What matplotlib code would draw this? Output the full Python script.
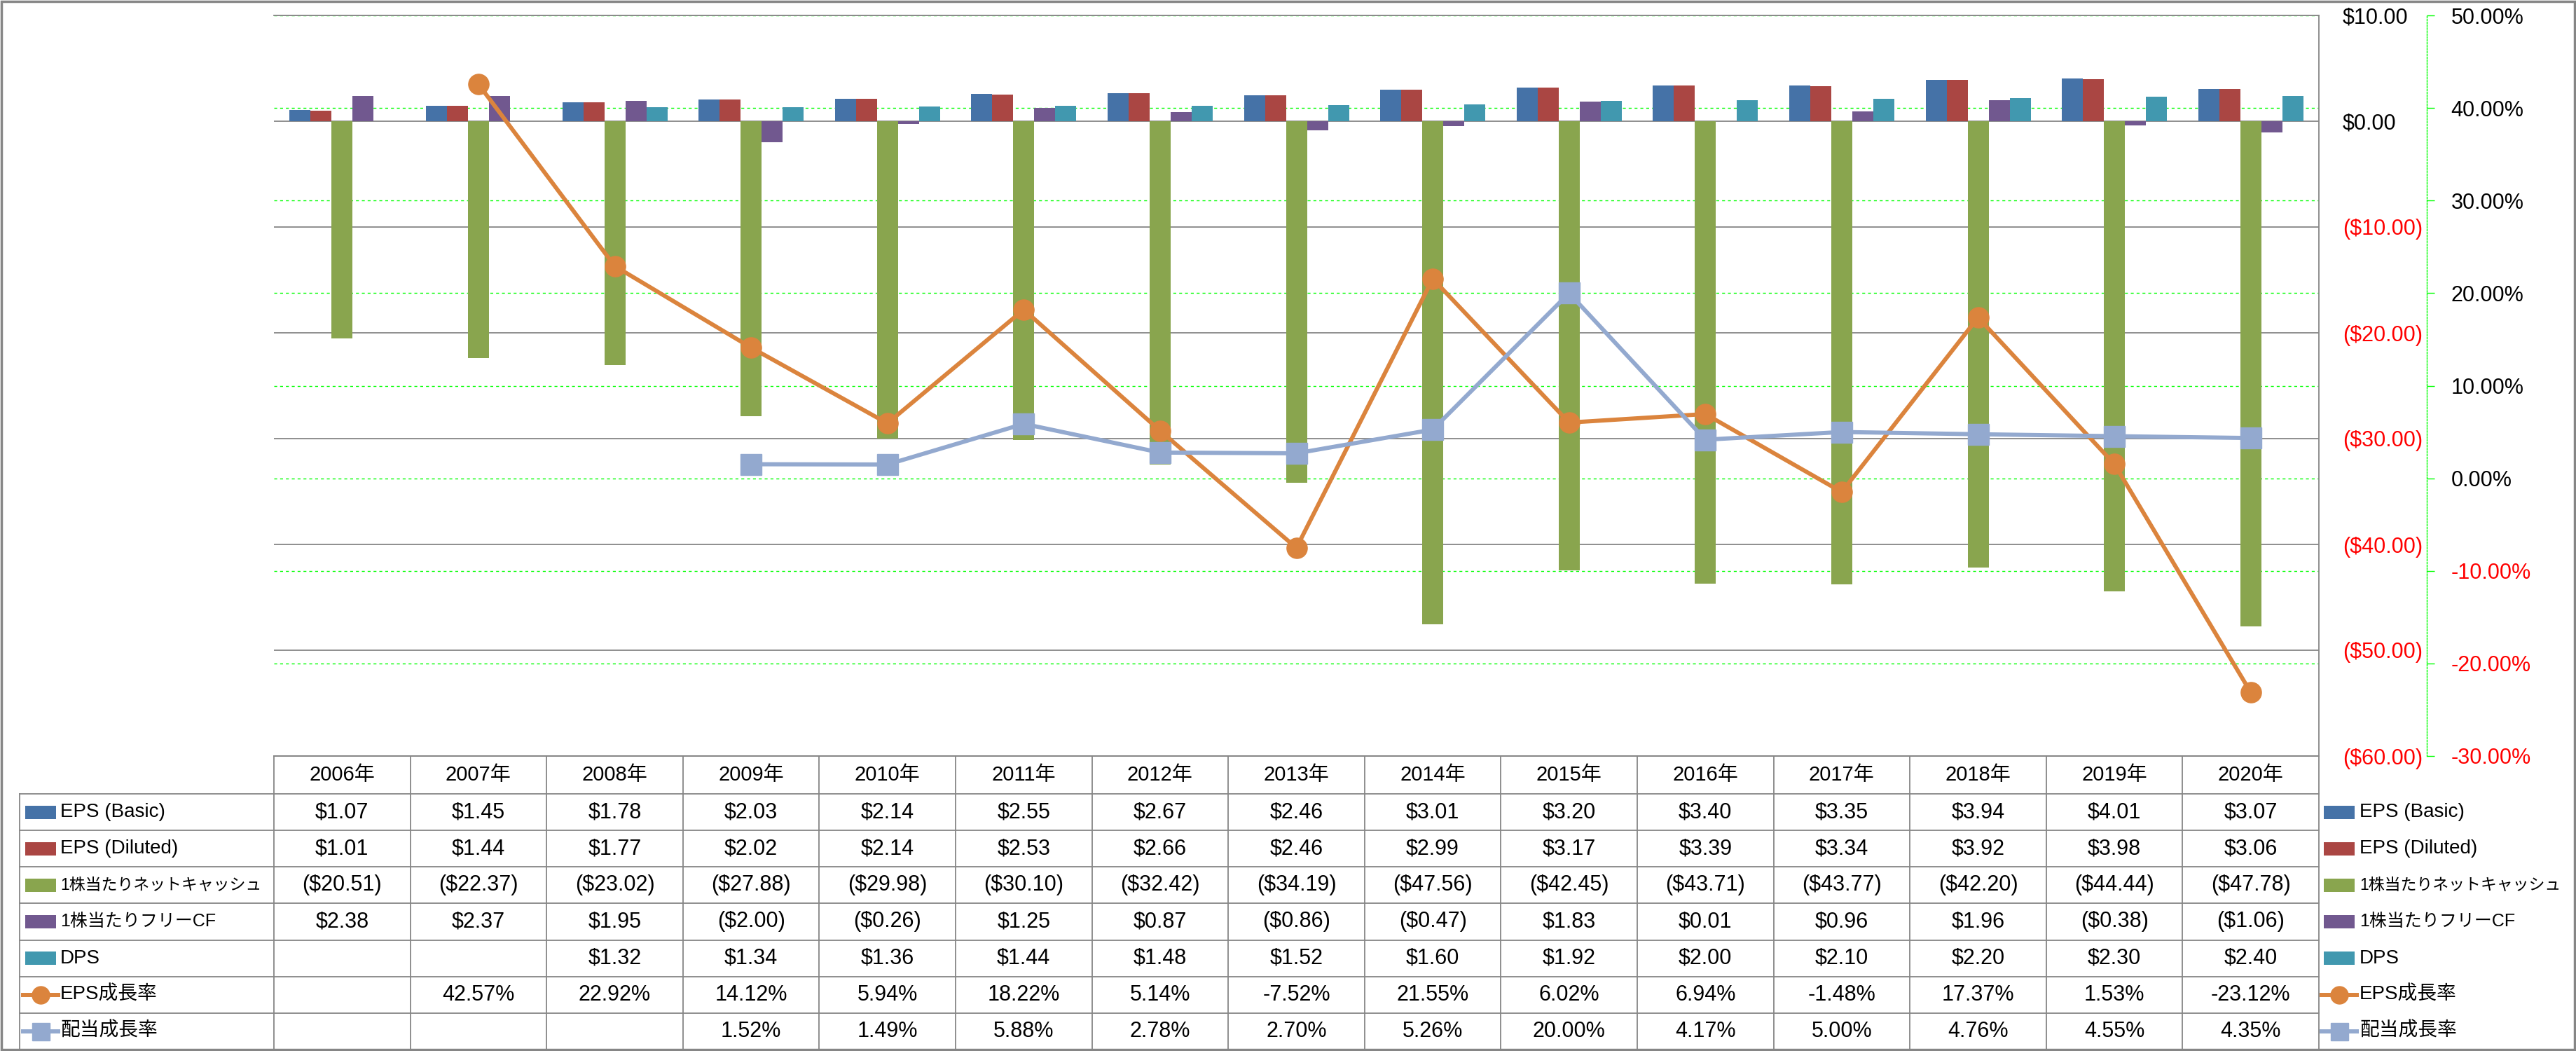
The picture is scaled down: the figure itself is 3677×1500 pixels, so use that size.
import numpy as np
import matplotlib
matplotlib.use("Agg")
import matplotlib.pyplot as plt
from matplotlib.patches import Rectangle

plt.rcParams['font.family'] = ['Liberation Sans', 'Noto Sans CJK JP']
plt.rcParams['text.parse_math'] = False

# data
years = [2006, 2007, 2008, 2009, 2010, 2011, 2012, 2013, 2014, 2015, 2016, 2017, 2018, 2019, 2020]
eps_basic = [1.07, 1.45, 1.78, 2.03, 2.14, 2.55, 2.67, 2.46, 3.01, 3.20, 3.40, 3.35, 3.94, 4.01, 3.07]
eps_diluted = [1.01, 1.44, 1.77, 2.02, 2.14, 2.53, 2.66, 2.46, 2.99, 3.17, 3.39, 3.34, 3.92, 3.98, 3.06]
net_cash = [-20.51, -22.37, -23.02, -27.88, -29.98, -30.10, -32.42, -34.19, -47.56, -42.45,
            -43.71, -43.77, -42.20, -44.44, -47.78]
fcf = [2.38, 2.37, 1.95, -2.00, -0.26, 1.25, 0.87, -0.86, -0.47, 1.83, 0.01, 0.96, 1.96, -0.38, -1.06]
dps = [None, None, 1.32, 1.34, 1.36, 1.44, 1.48, 1.52, 1.60, 1.92, 2.00, 2.10, 2.20, 2.30, 2.40]
eps_growth = [None, 42.57, 22.92, 14.12, 5.94, 18.22, 5.14, -7.52, 21.55, 6.02, 6.94, -1.48, 17.37, 1.53, -23.12]
div_growth = [None, None, None, 1.52, 1.49, 5.88, 2.78, 2.70, 5.26, 20.00, 4.17, 5.00, 4.76, 4.55, 4.35]

bar_names = ['EPS (Basic)', 'EPS (Diluted)', '1株当たりネットキャッシュ', '1株当たりフリーCF', 'DPS']
bar_data = [eps_basic, eps_diluted, net_cash, fcf, dps]
bar_colors = ['#4572A7', '#AA4643', '#89A54E', '#71588F', '#4198AF']
line_names = ['EPS成長率', '配当成長率']
line_data = [eps_growth, div_growth]
line_colors = ['#DB843D', '#93A9CF']
line_markers = ['o', 's']

usd_ticks = list(range(-60, 11, 10))
pct_ticks = list(range(-30, 51, 10))

W, H = 3677, 1500
GRAY = '#868686'
LIME = '#00FF00'

def money(v):
    return f"${v:.2f}" if v >= 0 else f"(${-v:.2f})"

def pct(v):
    return f"{v:.2f}%"

def arr(v):
    return np.array([np.nan if x is None else x for x in v], dtype=float)

fig = plt.figure(figsize=(W / 100, H / 100), dpi=100)

# plot area in pixels
L, R, T, B = 391, 3310, 22, 1079
rect = [L / W, 1 - B / H, (R - L) / W, (B - T) / H]
n = len(years)
x = np.arange(n)

# green dashed grid of the % axis, drawn under the bars
axg = fig.add_axes(rect, label='grid')
axg.set_xlim(-0.5, n - 0.5)
axg.set_ylim(pct_ticks[0], pct_ticks[-1])
axg.set_yticks(pct_ticks)
axg.grid(axis='y', color=LIME, linestyle=(0, (3, 3)), linewidth=1.0)
axg.tick_params(left=False, labelleft=False, bottom=False, labelbottom=False)
for s in axg.spines.values():
    s.set_visible(False)

# bars on $ axis
ax = fig.add_axes(rect, label='bars')
ax.patch.set_visible(False)
ax.set_xlim(-0.5, n - 0.5)
ax.set_ylim(usd_ticks[0], usd_ticks[-1])
bw = 30 / ((R - L) / n)
for i, (vals, c) in enumerate(zip(bar_data, bar_colors)):
    ax.bar(x + (i - 2) * bw, arr(vals), width=bw, color=c, zorder=2)
ax.set_axisbelow(True)
ax.grid(axis='y', color=GRAY, linewidth=1.3, zorder=0)
ax.set_xticks([])

# growth lines on % axis
ax2 = ax.twinx()
ax2.set_ylim(pct_ticks[0], pct_ticks[-1])
for vals, c, m in zip(line_data, line_colors, line_markers):
    ax2.plot(x, arr(vals), color=c, linewidth=4.3, marker=m, markersize=21,
             markerfacecolor=c, markeredgecolor=c, zorder=3)
ax2.set_yticks(pct_ticks, [pct(v) for v in pct_ticks])
ax2.spines['right'].set_position(('axes', (3464 - L) / (R - L)))
ax2.spines['right'].set_color(LIME)
ax2.spines['right'].set_linestyle((0, (1.5, 1.5)))
ax2.spines['right'].set_linewidth(1.0)
for k in ['top', 'bottom', 'left']:
    ax2.spines[k].set_visible(False)
ax2.tick_params(axis='y', direction='out', length=8, width=1, color=LIME, pad=17, labelsize=22)
for lab, v in zip(ax2.get_yticklabels(), pct_ticks):
    lab.set_color('#FF0000' if v < 0 else 'black')

# $ axis labels on the right side of the plot area (after twinx)
ax.set_yticks(usd_ticks, [money(v) for v in usd_ticks])
ax.tick_params(axis='y', left=False, labelleft=False, right=False, labelright=True,
               length=0, pad=24.5, labelsize=22)
for t, v in zip(ax.yaxis.get_major_ticks(), usd_ticks):
    t.label2.set_color('#FF0000' if v < 0 else 'black')
ax.spines['left'].set_visible(False)
for k in ['top', 'bottom', 'right']:
    ax.spines[k].set_visible(True)
    ax.spines[k].set_color(GRAY)
    ax.spines[k].set_linewidth(1.3)

# data table and legend, drawn in pixel coordinates
ov = fig.add_axes([0, 0, 1, 1], label='table')
ov.set_xlim(0, W)
ov.set_ylim(H, 0)
ov.axis('off')

cw = (R - L) / n
head_top, head_bot, tab_bot = B, 1133, 1498
rh = (tab_bot - head_bot) / 7
lw_t = 1.3

ov.plot([L, R], [head_top, head_top], color=GRAY, lw=lw_t)
for j in range(n + 1):
    ov.plot([L + j * cw] * 2, [head_top, tab_bot], color=GRAY, lw=lw_t)
ov.plot([28, 28], [head_bot, tab_bot], color=GRAY, lw=lw_t)
for r in range(8):
    yy = head_bot + r * rh
    ov.plot([28, R], [yy, yy], color=GRAY, lw=lw_t)

for j, yr in enumerate(years):
    ov.text(L + (j + 0.5) * cw, (head_top + head_bot) / 2, f"{yr}年", ha='center', va='center', fontsize=21)

rows = [(nm, vals, money) for nm, vals in zip(bar_names, bar_data)] + \
       [(nm, vals, pct) for nm, vals in zip(line_names, line_data)]
for r, (nm, vals, fmt) in enumerate(rows):
    yc = head_bot + (r + 0.5) * rh
    for j, v in enumerate(vals):
        if v is not None:
            ov.text(L + (j + 0.5) * cw, yc, fmt(v), ha='center', va='center', fontsize=22)

# legend keys in the table and at the right
fs_lab = {'1株当たりネットキャッシュ': 16.5, '1株当たりフリーCF': 18}
for r, (nm, vals, fmt) in enumerate(rows):
    yc = head_bot + (r + 0.5) * rh
    for kx, tx in [(36, 86), (3317, 3368)]:
        if r < 5:
            ov.add_patch(Rectangle((kx, yc - 9.5), 44, 19, color=bar_colors[r], lw=0))
        else:
            li = r - 5
            ov.plot([kx - 3, kx + 22, kx + 47], [yc] * 3, color=line_colors[li], lw=4.3,
                    marker=line_markers[li], markersize=18, markevery=[1],
                    markerfacecolor=line_colors[li], markeredgecolor=line_colors[li])
        ov.text(tx, yc, nm, ha='left', va='center', fontsize=fs_lab.get(nm, 20))

# outer frame
ov.add_patch(Rectangle((2, 2), W - 4.5, H - 4, fill=False, ec=GRAY, lw=2.5))

fig.savefig('out.png', dpi=100)
